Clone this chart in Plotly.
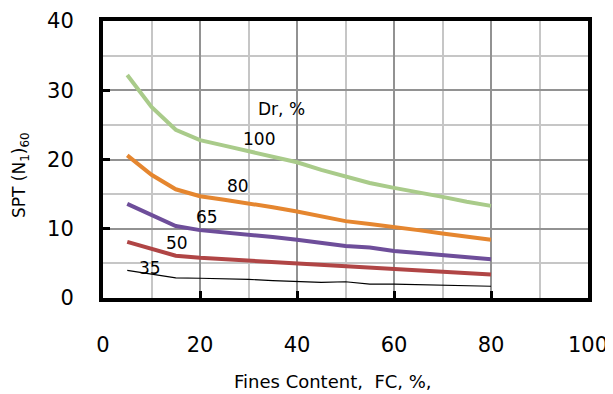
import plotly.graph_objects as go

fc = [5, 10, 15, 20, 25, 30, 35, 40, 45, 50, 55, 60, 65, 70, 75, 80]
dr100 = [32.2, 27.6, 24.3, 22.8, 22.0, 21.2, 20.4, 19.6, 18.5, 17.5, 16.6, 15.9, 15.3, 14.6, 13.9, 13.3]
dr80 = [20.6, 17.8, 15.7, 14.7, 14.2, 13.7, 13.1, 12.5, 11.8, 11.1, 10.7, 10.3, 9.8, 9.3, 8.8, 8.4]
dr65 = [13.6, 12.0, 10.4, 9.8, 9.5, 9.1, 8.8, 8.4, 8.0, 7.5, 7.3, 6.8, 6.5, 6.2, 5.9, 5.6]
dr50 = [8.1, 7.1, 6.1, 5.8, 5.6, 5.4, 5.2, 5.0, 4.8, 4.6, 4.4, 4.1, 3.9, 3.7, 3.6, 3.4]
dr35 = [4.0, 3.5, 2.9, 2.85, 2.8, 2.7, 2.5, 2.4, 2.25, 2.35, 2.0, 2.0, 1.9, 1.85, 1.8, 1.7]

series_names = ["100", "80", "65", "50", "35"]
series_vals = [dr100, dr80, dr65, dr50, dr35]
colors = ["#a9cb8a", "#e5862f", "#6e4e9a", "#b04545", "#000000"]
widths = [4, 4, 4, 4, 1.2]
label_x = [32.2, 27.8, 21.4, 15.3, 9.7]
label_y = [23.0, 16.2, 11.7, 7.9, 4.3]

x_ticks = [0, 20, 40, 60, 80, 100]
y_ticks = [0, 10, 20, 30, 40]

FONT = "DejaVu Sans"

fig = go.Figure()
for name, vals, c, w in zip(series_names, series_vals, colors, widths):
    fig.add_trace(go.Scatter(x=fc, y=vals, mode="lines", name=name,
                             line=dict(color=c, width=w), showlegend=False))

for name, lx, ly in zip(series_names, label_x, label_y):
    fig.add_annotation(x=lx, y=ly, text=name, showarrow=False,
                       font=dict(family=FONT, size=17, color="#000"))
fig.add_annotation(x=36.9, y=27.3, text="Dr, %", showarrow=False,
                   font=dict(family=FONT, size=17, color="#000"))

fig.add_annotation(xref="paper", yref="paper", x=(20 - 103) / 485, y=(298 - 175) / 277,
                   xanchor="center", yanchor="middle",
                   text="SPT (N<sub>1</sub>)<sub>60</sub>", textangle=-90, showarrow=False,
                   font=dict(family=FONT, size=17, color="#000"))
fig.add_annotation(xref="paper", yref="paper", x=(333 - 103) / 485, y=(298 - 381) / 277,
                   xanchor="center", yanchor="middle",
                   text="Fines Content,  FC, %,", showarrow=False,
                   font=dict(family=FONT, size=18, color="#000"))

axis_common = dict(showline=True, linecolor="#000", linewidth=4, mirror=True,
                   ticks="inside", ticklen=7, tickwidth=3, tickcolor="#000",
                   zeroline=False, showgrid=True, gridcolor="#929292", gridwidth=2,
                   automargin=False,
                   tickfont=dict(family=FONT, size=21, color="#000"))

fig.update_xaxes(range=[0, 100], tickvals=x_ticks, ticklabelstandoff=25,
                 minor=dict(dtick=10, tick0=0, showgrid=True, gridcolor="#c6c6c6", gridwidth=2, ticks=""),
                 **axis_common)
fig.update_yaxes(range=[0, 40], tickvals=y_ticks, ticklabelstandoff=21,
                 minor=dict(dtick=5, tick0=0, showgrid=True, gridcolor="#c6c6c6", gridwidth=2, ticks=""),
                 **axis_common)

# page body has an 8px default margin; shift figure so the plot area lands where the reference has it
fig.update_layout(width=605, height=386, margin=dict(l=95, r=25, t=13, b=96),
                  plot_bgcolor="white", paper_bgcolor="white",
                  font=dict(family=FONT, color="#000"))

fig.write_html("out.html")
